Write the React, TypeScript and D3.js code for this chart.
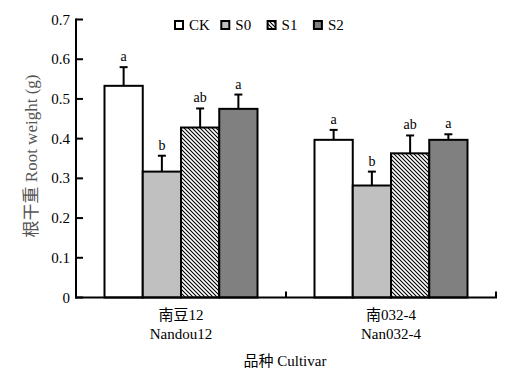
import React from "react";
import * as d3 from "d3";

const cultivarsCn = ["南豆12", "南032-4"];
const cultivarsEn = ["Nandou12", "Nan032-4"];
const seriesNames = ["CK", "S0", "S1", "S2"];
const meanNandou = [0.533, 0.317, 0.428, 0.475];
const errNandou = [0.047, 0.04, 0.048, 0.036];
const meanNan = [0.397, 0.282, 0.363, 0.397];
const errNan = [0.025, 0.035, 0.045, 0.014];
const lettersNandou = ["a", "b", "ab", "a"];
const lettersNan = ["a", "b", "ab", "a"];
const yTicks = [0, 0.1, 0.2, 0.3, 0.4, 0.5, 0.6, 0.7];

const means = [meanNandou, meanNan];
const errs = [errNandou, errNan];
const letters = [lettersNandou, lettersNan];

const fills = ["#ffffff", "#c0c0c0", "url(#hatch)", "#808080"];
const FONT = "'Liberation Serif', 'Times New Roman', 'Noto Sans CJK SC', serif";

export default function App() {
  const W = 530, H = 381;
  const x0 = 76, x1 = 496;
  const y = d3.scaleLinear().domain([0, 0.7]).range([297.5, 19.5]);
  const xBand = d3.scaleBand<string>().domain(cultivarsCn).range([x0, x1]).paddingInner(0).paddingOuter(0);
  const groupW = 153;
  const xInner = d3.scaleBand<string>().domain(seriesNames).range([0, groupW]).padding(0);
  const bw = xInner.bandwidth();

  return (
    <svg width={W} height={H} style={{ position: "absolute", left: 0, top: 0, background: "#fff" }} fontFamily={FONT}>
      <defs>
        <pattern id="hatch" patternUnits="userSpaceOnUse" width="4" height="4">
          <rect width="4" height="4" fill="#fff" />
          <path d="M-1,-1 L5,5 M-1,3 L1,5 M3,-1 L5,1" stroke="#000" strokeWidth="1.1" />
        </pattern>
      </defs>
      {cultivarsCn.map((c, gi) => {
        const gx = xBand(c)! + (xBand.bandwidth() - groupW) / 2;
        return (
          <g key={c}>
            {seriesNames.map((s, si) => {
              const bx = gx + xInner(s)!;
              const v = means[gi][si];
              const e = errs[gi][si];
              const cx = bx + bw / 2;
              return (
                <g key={s}>
                  <rect x={bx} y={y(v)} width={bw} height={y(0) - y(v)} fill={fills[si]} stroke="#000" strokeWidth={2} />
                  <line x1={cx} x2={cx} y1={y(v)} y2={y(v + e)} stroke="#000" strokeWidth={2} />
                  <line x1={cx - 4} x2={cx + 4} y1={y(v + e)} y2={y(v + e)} stroke="#000" strokeWidth={2} />
                  <text x={cx} y={y(v + e) - 6} textAnchor="middle" fontSize={14} fill="#000">{letters[gi][si]}</text>
                </g>
              );
            })}
            <text x={xBand(c)! + xBand.bandwidth() / 2} y={320} textAnchor="middle" fontSize={15}>{c}</text>
            <text x={xBand(c)! + xBand.bandwidth() / 2} y={339} textAnchor="middle" fontSize={15}>{cultivarsEn[gi]}</text>
          </g>
        );
      })}
      <line x1={x0} x2={x0} y1={y(0.7) - 1} y2={y(0) + 1} stroke="#000" strokeWidth={2} />
      <line x1={x0 - 1} x2={x1 + 1} y1={y(0)} y2={y(0)} stroke="#000" strokeWidth={2} />
      {yTicks.map((t) => (
        <g key={t}>
          <line x1={x0} x2={x0 + 7} y1={y(t)} y2={y(t)} stroke="#000" strokeWidth={2} />
          <text x={70} y={y(t) + 5} textAnchor="end" fontSize={15}>{t === 0 ? "0" : t.toFixed(1)}</text>
        </g>
      ))}
      {cultivarsCn.map((c) => {
        const tx = xBand(c)! + xBand.bandwidth();
        return <line key={c} x1={tx} x2={tx} y1={y(0)} y2={y(0) - 6} stroke="#000" strokeWidth={2} />;
      })}
      <text x={285} y={366} textAnchor="middle" fontSize={15}>品种 Cultivar</text>
      <text transform={`translate(37,156) rotate(-90)`} textAnchor="middle" fontSize={17} fill="#555">根干重 Root weight (g)</text>
      {seriesNames.map((s, i) => {
        const lx = 175 + i * 46.3;
        return (
          <g key={s}>
            <rect x={lx} y={21} width={8} height={8} fill={fills[i]} stroke="#000" strokeWidth={2} />
            <text x={lx + 14} y={29.5} fontSize={15}>{s}</text>
          </g>
        );
      })}
    </svg>
  );
}
